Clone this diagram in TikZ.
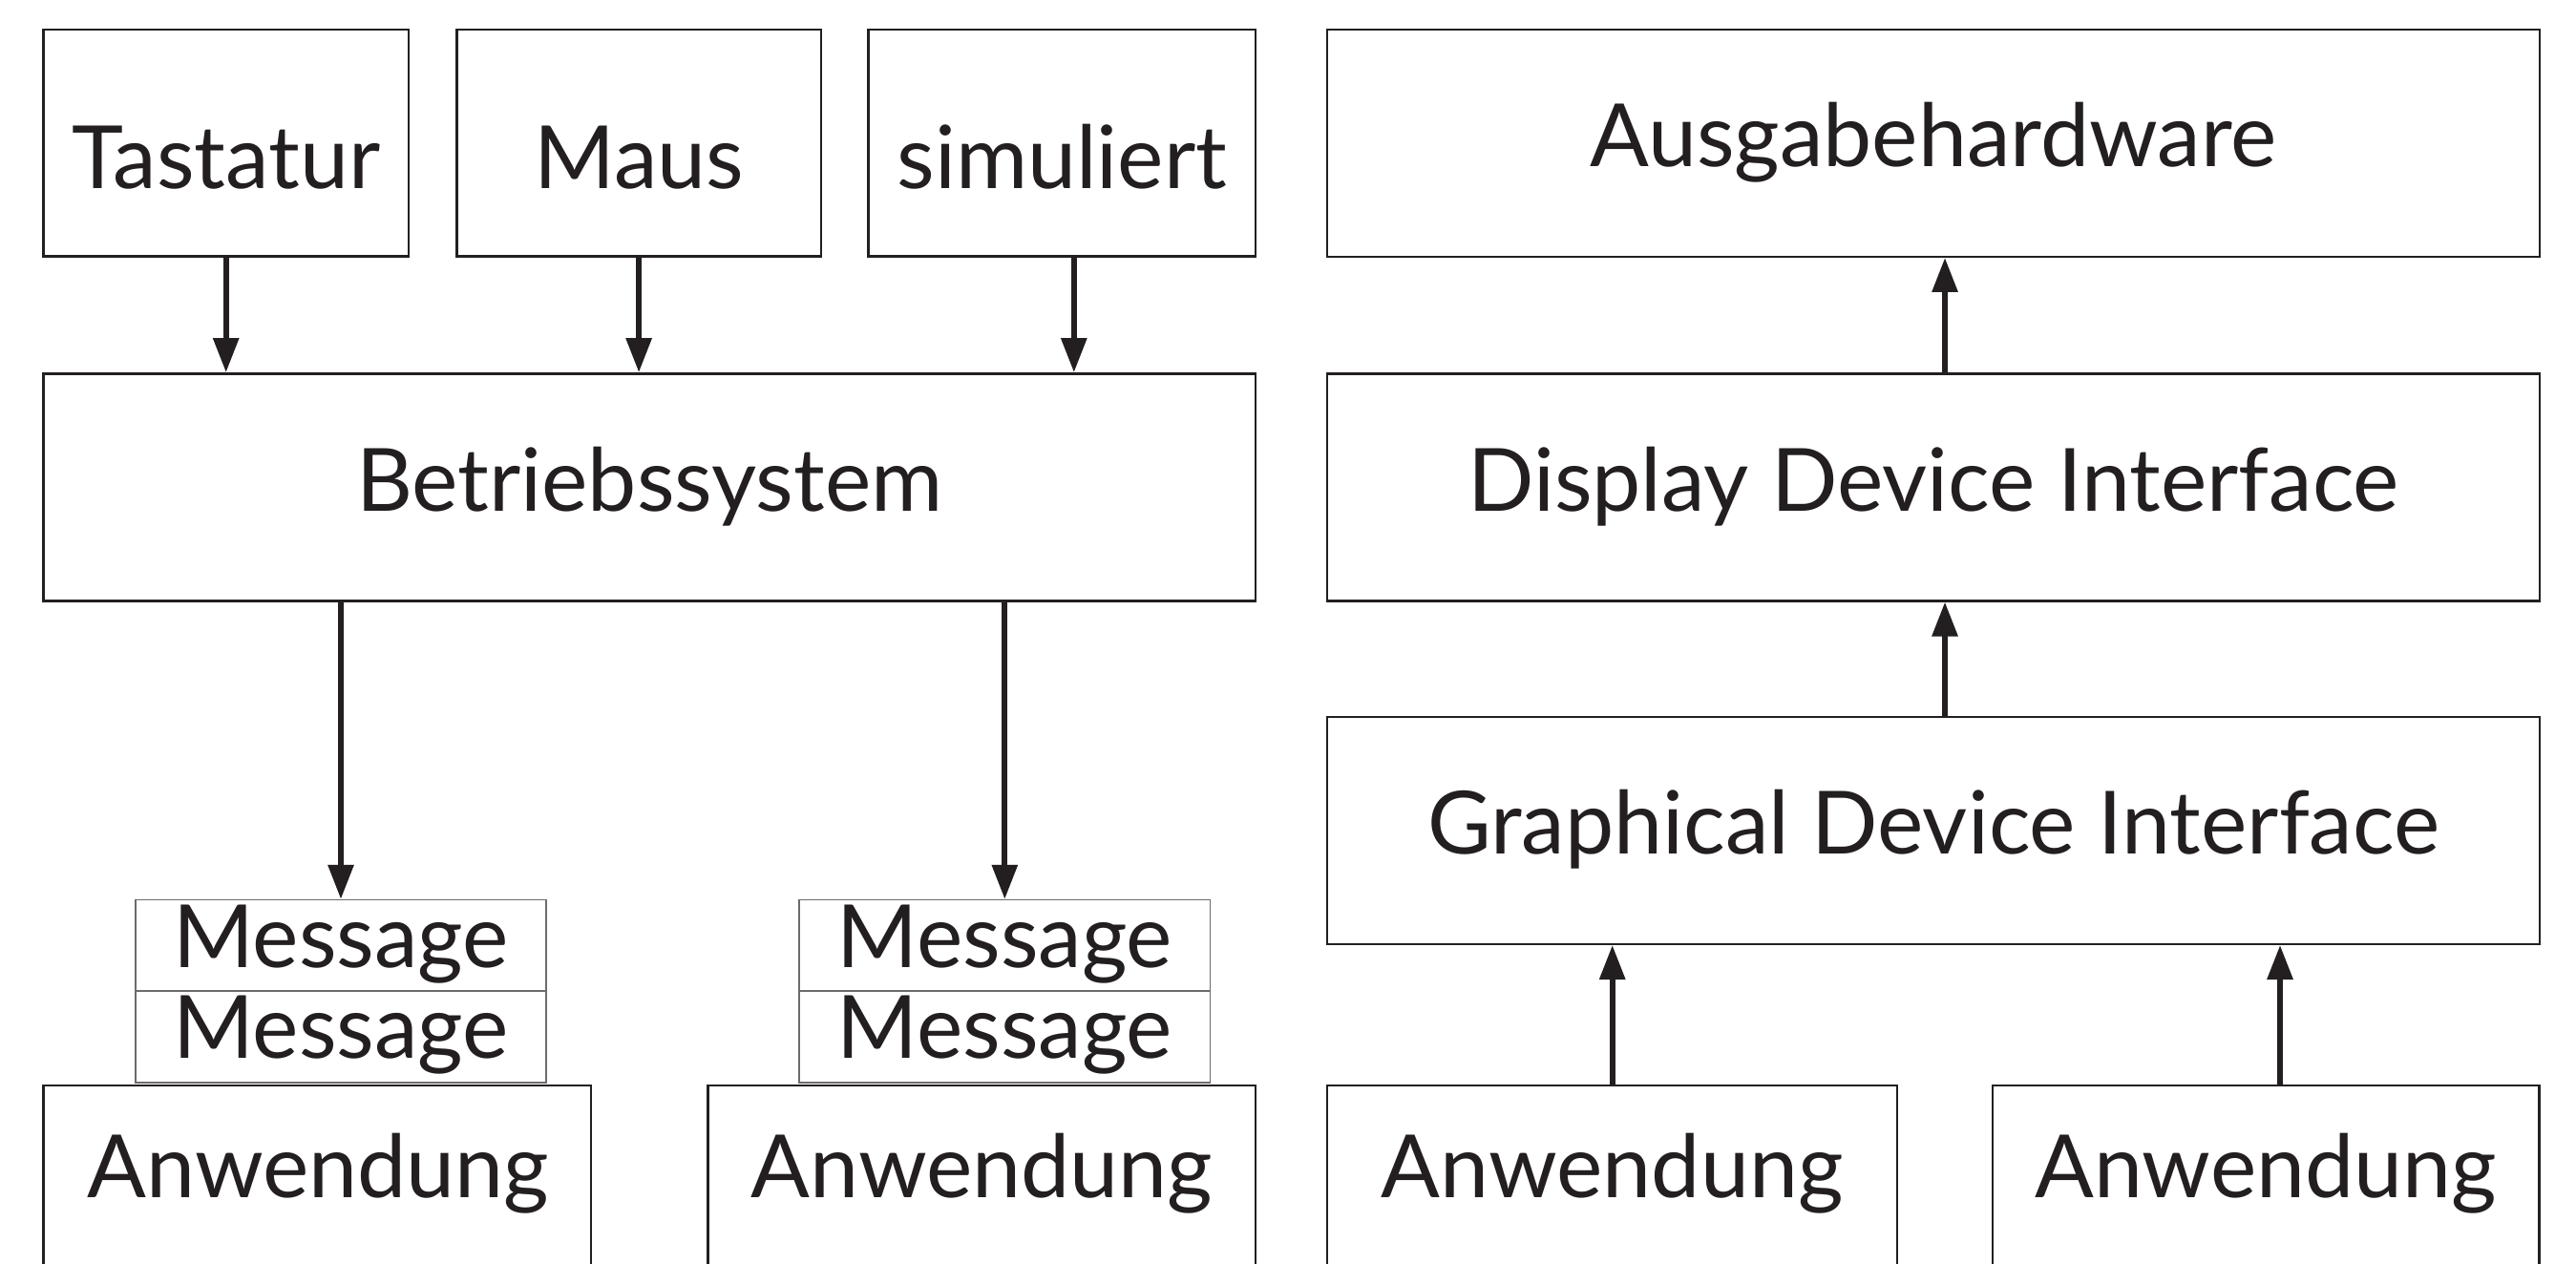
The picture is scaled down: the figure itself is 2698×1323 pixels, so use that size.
\documentclass[tikz,border=0pt]{standalone}
\usepackage{fontspec}
\setmainfont{Lato}
\usetikzlibrary{arrows.meta}
\definecolor{ink}{HTML}{231F20}
\definecolor{msgline}{HTML}{6D6B6C}
\begin{document}
\begin{tikzpicture}[x=0.01cm,y=-0.01cm,
  lbl/.style={text=ink, font=\fontsize{26}{30}\selectfont},
  box/.style={lbl, draw=ink, line width=0.7pt, inner sep=0pt, text height=19pt, text depth=4.8pt},
  topbox/.style={box, text height=27pt, text depth=0pt, minimum height=2.375cm},
  bigbox/.style={box, minimum width=12.69cm, minimum height=2.378cm},
  msgbox/.style={box, draw=msgline, line width=0.4pt, minimum width=4.30cm, minimum height=0.955cm, text height=18pt, text depth=5pt},
  appbox/.style={box, anchor=north, minimum height=3cm},
  arr/.style={draw=ink, line width=1.7pt, -{Triangle[length=0.36cm,width=0.26cm]}}]
\useasboundingbox (0,0) rectangle (2698,1323);
\clip (0,0) rectangle (2698,1323);
\fill[white] (0,0) rectangle (2698,1323);
% left: input
\node[topbox, minimum width=3.821cm] (tast) at (236.7,149.75) {Tastatur};
\node[topbox, minimum width=3.812cm] (maus) at (669.1,149.75) {Maus};
\node[topbox, minimum width=4.054cm] (sim) at (1112.3,149.75) {simuliert};
\node[bigbox] (bs) at (680.3,510.3) {Betriebssystem};
\coordinate (simout) at (1124.8,268.5);
\draw[arr] (tast) -- (tast.south |- bs.north);
\draw[arr] (maus) -- (maus.south |- bs.north);
\draw[arr] (simout) -- (simout |- bs.north);
% messages
\node[msgbox] (m1a) at (357,990.3) {Message};
\node[msgbox] (m1b) at (357,1086) {Message};
\node[msgbox] (m2a) at (1052.3,990.3) {Message};
\node[msgbox] (m2b) at (1052.3,1086) {Message};
\draw[arr] (m1a.north |- bs.south) -- (m1a.north);
\draw[arr] (m2a.north |- bs.south) -- (m2a.north);
% applications left
\node[appbox, minimum width=5.732cm] (a1) at (332.2,1135.7) {};
\node[appbox, minimum width=5.732cm] (a2) at (1028.4,1135.7) {};
\node[lbl, anchor=base, inner sep=0pt] (a1t) at (333.4,1254.7) {Anwendung};
\node[lbl, anchor=base, inner sep=0pt] (a2t) at (1028.4,1254.7) {Anwendung};
% right: output
\node[bigbox] (ausg) at (2025,149.75) {Ausgabehardware};
\node[bigbox] (ddi) at (2025,510.3) {Display Device Interface};
\node[bigbox] (gdi) at (2025,869.75) {Graphical Device Interface};
\node[appbox, minimum width=5.966cm] (a3) at (1688.7,1135.7) {};
\node[appbox, minimum width=5.725cm] (a4) at (2373.2,1135.7) {};
\node[lbl, anchor=base, inner sep=0pt] (a3t) at (1688.7,1254.7) {Anwendung};
\node[lbl, anchor=base, inner sep=0pt] (a4t) at (2373.2,1254.7) {Anwendung};
\coordinate (up) at (2037,510.3);
\draw[arr] (up |- ddi.north) -- (up |- ausg.south);
\draw[arr] (up |- gdi.north) -- (up |- ddi.south);
\coordinate (a4up) at (2388,1135.7);
\draw[arr] (a3.north) -- (a3.north |- gdi.south);
\draw[arr] (a4up) -- (a4up |- gdi.south);
\end{tikzpicture}
\end{document}
